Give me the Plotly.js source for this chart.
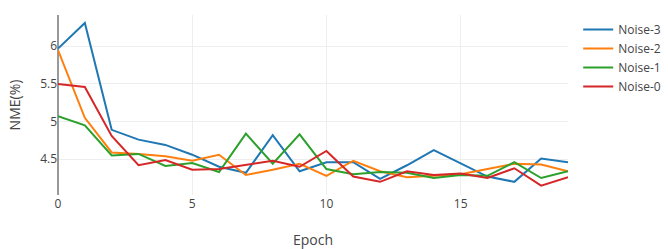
<!DOCTYPE html>
<html>
<head>
<meta charset="utf-8">
<script src="https://cdn.plot.ly/plotly-3.0.1.min.js"></script>
<style>html,body{margin:0;padding:0;background:#fff;}#chart{width:668px;height:249px;}</style>
</head>
<body>
<div id="chart"></div>
<script>
const epochs = [0,1,2,3,4,5,6,7,8,9,10,11,12,13,14,15,16,17,18,19];
const seriesNames = ["Noise-3","Noise-2","Noise-1","Noise-0"];
const noise3 = [5.97,6.31,4.89,4.76,4.69,4.56,4.40,4.32,4.82,4.34,4.46,4.46,4.24,4.42,4.62,4.45,4.27,4.20,4.51,4.46];
const noise2 = [5.95,5.05,4.59,4.57,4.54,4.48,4.56,4.29,4.36,4.44,4.28,4.48,4.34,4.26,4.28,4.30,4.37,4.44,4.43,4.34];
const noise1 = [5.07,4.95,4.55,4.57,4.41,4.45,4.33,4.84,4.44,4.83,4.37,4.30,4.33,4.32,4.25,4.29,4.28,4.46,4.25,4.34];
const noise0 = [5.50,5.46,4.81,4.42,4.49,4.36,4.37,4.43,4.48,4.40,4.61,4.27,4.20,4.34,4.29,4.31,4.25,4.38,4.15,4.26];
const colors = ["#1f77b4","#ff7f0e","#2ca02c","#d62728"];
const ys = [noise3, noise2, noise1, noise0];

const data = ys.map((y, i) => ({
  x: epochs, y: y, type: "scatter", mode: "lines", name: seriesNames[i],
  line: {color: colors[i], width: 2}
}));

const layout = {
  width: 668, height: 249,
  margin: {l: 58, r: 100, t: 15, b: 54, autoexpand: false},
  font: {family: "Open Sans, sans-serif", size: 12, color: "#444"},
  paper_bgcolor: "#fff", plot_bgcolor: "#fff",
  showlegend: true,
  legend: {font: {size: 12}, x: 1.02, y: 1},
  xaxis: {
    title: {text: "Epoch", font: {size: 14}},
    range: [0, 19], showgrid: true, gridcolor: "#eee",
    zeroline: true, zerolinecolor: "#999", zerolinewidth: 2,
    tickvals: [0,5,10,15], automargin: false
  },
  yaxis: {
    title: {text: "NME(%)", font: {size: 14}},
    range: [4.025, 6.415], showgrid: true, gridcolor: "#eee",
    tickvals: [4.5,5,5.5,6], ticktext: ["4.5","5","5.5","6"], automargin: false
  }
};
Plotly.newPlot("chart", data, layout, {displayModeBar: false, staticPlot: true});
</script>
</body>
</html>
